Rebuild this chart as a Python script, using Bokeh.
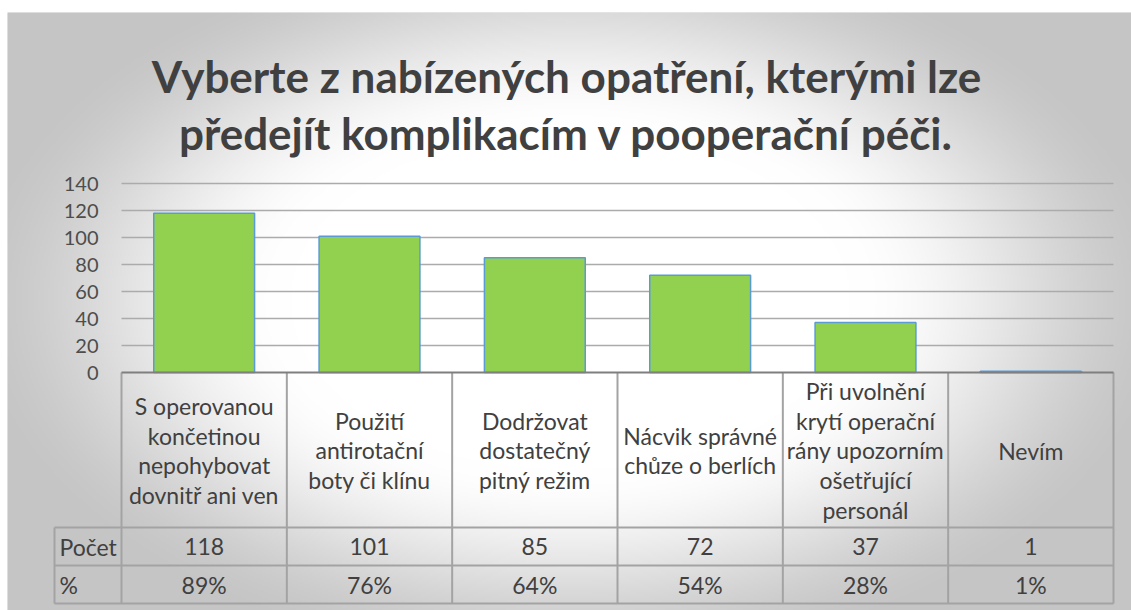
import numpy as np
from bokeh.plotting import figure
from bokeh.models import Range1d, ColumnDataSource
from bokeh.core.properties import value
from bokeh.embed import file_html
from bokeh.resources import INLINE

# ---- data ----
title_lines = ["Vyberte z nabízených opatření, kterými lze",
               "předejít komplikacím v pooperační péči."]
categories = ["S operovanou\nkončetinou\nnepohybovat\ndovnitř ani ven",
              "Použití\nantirotační\nboty či klínu",
              "Dodržovat\ndostatečný\npitný režim",
              "Nácvik správné\nchůze o berlích",
              "Při uvolnění\nkrytí operační\nrány upozorním\nošetřující\npersonál",
              "Nevím"]
counts = [118, 101, 85, 72, 37, 1]
percents = ["89%", "76%", "64%", "54%", "28%", "1%"]
row_labels = ["Počet", "%"]
y_ticks = [0, 20, 40, 60, 80, 100, 120, 140]

# ---- layout helpers (canvas pixels -> data coords) ----
PX_PER_CAT = 992 / 6.0
PX_PER_UNIT = 1.35
def X(px):
    return (px - 121) / PX_PER_CAT
def Y(py):
    return (372 - py) / PX_PER_UNIT

FONT = value("Lato")
TXT = "#404040"
FS = "23px"

p = figure(width=1131, height=610, output_backend="svg", toolbar_location=None,
           x_range=Range1d(X(7), X(1131)), y_range=Range1d(Y(610), Y(12)),
           x_axis_location=None, y_axis_location=None,
           min_border_left=7, min_border_right=0, min_border_bottom=0, min_border_top=12)
p.grid.visible = False
p.outline_line_color = None
p.border_fill_color = "white"
p.background_fill_color = "#d0d0d0"

# ---- radial gradient background ----
nx, ny = 562, 300
jj = np.arange(nx)
ii = np.arange(ny)
pxs = 7 + (jj + 0.5) * 1124 / nx
pys = 610 - (ii + 0.5) * 598 / ny
PX, PY = np.meshgrid(pxs, pys)
d = np.sqrt(((PX - 570) / 560.0) ** 2 + ((PY - 300) / 340.0) ** 2)
t = np.clip((d - 0.5) / 0.6, 0, 1)
t = t * t * (3 - 2 * t)
v = (255 - 58 * t).astype(np.uint32)
img = (255 << 24) | (v << 16) | (v << 8) | v
p.image_rgba(image=[img], x=X(7), y=Y(610), dw=X(1131) - X(7), dh=Y(12) - Y(610))

# ---- gridlines ----
grid_y = [t_ for t_ in y_ticks if t_ > 0]
p.segment(x0=[0] * len(grid_y), x1=[6] * len(grid_y), y0=grid_y, y1=grid_y,
          line_color="#ababab", line_width=1.5)

# ---- bars ----
xs = [i + 0.5 for i in range(len(counts))]
src = ColumnDataSource(dict(x=xs, top=counts))
p.vbar(x="x", top="top", bottom=0, width=0.61, source=src,
       fill_color="#92D050", line_color="#5B9BD5", line_width=1.5)

# ---- y tick labels ----
p.text(x=[X(98)] * len(y_ticks), y=y_ticks, text=[str(t_) for t_ in y_ticks],
       text_align="right", text_baseline="middle", text_font=FONT,
       text_font_size="20px", text_color="#4d4d4d")

# ---- data table ----
LC = "#a3a3a3"
rows_y = [Y(527), Y(565), Y(603)]
p.segment(x0=[X(54)] * 3, x1=[6] * 3, y0=rows_y, y1=rows_y, line_color=LC, line_width=2)
p.segment(x0=[X(54)], x1=[X(54)], y0=[Y(527)], y1=[Y(603)], line_color=LC, line_width=2)
cols = list(range(len(categories) + 1))
p.segment(x0=cols, x1=cols, y0=[0] * len(cols), y1=[Y(603)] * len(cols), line_color=LC, line_width=2)
# axis line (value 0)
p.segment(x0=[0], x1=[6], y0=[0], y1=[0], line_color="#7f7f7f", line_width=2)

p.text(x=xs, y=[Y(450)] * len(xs), text=categories, text_align="center",
       text_baseline="middle", text_font=FONT, text_font_size=FS,
       text_color=TXT, text_line_height=1.06)
p.text(x=xs, y=[Y(546)] * len(xs), text=[str(c) for c in counts], text_align="center",
       text_baseline="middle", text_font=FONT, text_font_size=FS, text_color=TXT)
p.text(x=xs, y=[Y(584)] * len(xs), text=percents, text_align="center",
       text_baseline="middle", text_font=FONT, text_font_size=FS, text_color=TXT)
p.text(x=[X(59)] * 2, y=[Y(546), Y(584)], text=row_labels, text_align="left",
       text_baseline="middle", text_font=FONT, text_font_size=FS, text_color=TXT)

# ---- title ----
p.text(x=[X(566)] * 2, y=[Y(75), Y(132)], text=title_lines, text_align="center",
       text_baseline="alphabetic", text_font=FONT, text_font_style="bold",
       text_font_size="44px", text_color="#404040")

open("out.html", "w").write(file_html(p, INLINE))
